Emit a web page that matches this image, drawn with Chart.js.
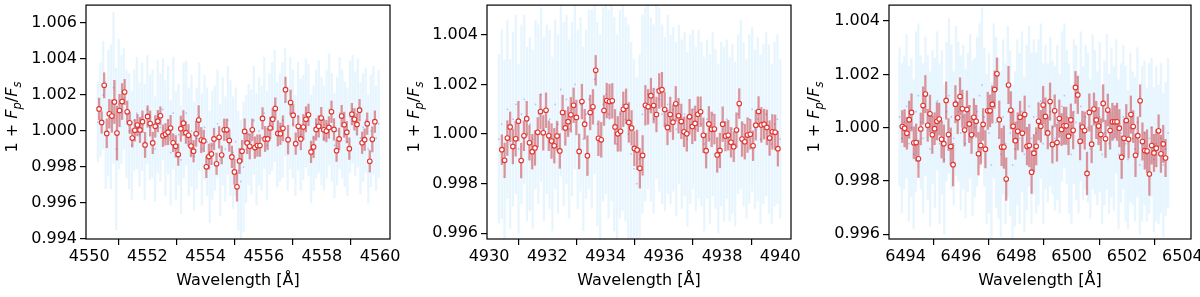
<!DOCTYPE html>
<html>
<head>
<meta charset="utf-8">
<script src="https://cdn.jsdelivr.net/npm/chart.js@4.4.0/dist/chart.umd.min.js"></script>
<style>
  body { margin: 0; background: #fff; }
  #wrap { position: relative; width: 1200px; height: 297px; }
  .panel { position: absolute; top: 0; width: 400px; height: 297px; }
</style>
</head>
<body>
<div id="wrap">
  <div class="panel" style="left:0"><canvas id="c1"></canvas></div>
  <div class="panel" style="left:400px"><canvas id="c2"></canvas></div>
  <div class="panel" style="left:800px"><canvas id="c3"></canvas></div>
</div>
<script>
// binned points (red) - evenly spaced in wavelength between first and last
const ba4554Range = [4550.34, 4559.82];
const ba4554Flux = [
  1.00123, 1.00048, 1.00254, 0.99987, 1.00096, 1.00083, 1.00162, 0.99989, 1.00114, 1.00164,
  1.00217, 1.00107, 1.00046, 0.99961, 1.00004, 1.00033, 1.00006, 1.00052, 0.99923, 1.00081,
  1.00042, 0.99934, 1.00026, 1.00055, 1.00085, 0.99974, 0.99982, 0.99994, 1.00017, 0.99935,
  0.99915, 0.99869, 1.00013, 1.00044, 0.99991, 0.99976, 0.99917, 0.99888, 0.99985, 1.00061,
  0.99950, 0.99945, 0.99801, 0.99858, 0.99873, 0.99956, 0.99818, 0.99965, 0.99867, 1.00007,
  1.00007, 0.99947, 0.99856, 0.99773, 0.99690, 0.99834, 0.99888, 0.99998, 0.99934, 0.99915,
  1.00007, 0.99908, 0.99919, 0.99919, 1.00070, 0.99956, 0.99956, 1.00017, 1.00066, 1.00125,
  0.99987, 0.99985, 1.00015, 1.00230, 0.99952, 1.00158, 1.00088, 0.99930, 1.00026, 0.99956,
  1.00022, 1.00065, 1.00090, 0.99884, 0.99912, 1.00009, 1.00026, 1.00072, 1.00007, 1.00000,
  1.00020, 1.00107, 1.00009, 0.99891, 0.99956, 1.00083, 1.00035, 0.99994, 0.99902, 1.00094,
  1.00065, 1.00037, 1.00116, 0.99935, 0.99952, 1.00041, 0.99832, 0.99954, 1.00052
];
const ba4554Err = [
  0.0006,0.0006,0.0007,0.0008,0.0008,0.0009,0.0012,0.0015,0.0009,0.0010,
  0.0007,0.0006,0.0006,0.0005,0.0006,0.0006,0.0007,0.0006,0.0007,0.0006,
  0.0007,0.0006,0.0006,0.0006,0.0005,0.0006,0.0006,0.0007,0.0007,0.0005,
  0.0006,0.0006,0.0007,0.0007,0.0006,0.0006,0.0006,0.0006,0.0007,0.0008,
  0.0007,0.0006,0.0006,0.0007,0.0006,0.0006,0.0006,0.0006,0.0005,0.0006,
  0.0006,0.0006,0.0006,0.0007,0.0008,0.0007,0.0006,0.0007,0.0006,0.0007,
  0.0006,0.0006,0.0006,0.0006,0.0006,0.0007,0.0006,0.0006,0.0006,0.0006,
  0.0007,0.0006,0.0007,0.0007,0.0008,0.0007,0.0006,0.0006,0.0006,0.0006,
  0.0007,0.0007,0.0006,0.0006,0.0006,0.0006,0.0006,0.0006,0.0006,0.0006,
  0.0006,0.0006,0.0006,0.0006,0.0006,0.0006,0.0007,0.0006,0.0006,0.0006,
  0.0006,0.0006,0.0006,0.0006,0.0006,0.0006,0.0006,0.0007,0.0006
];
// unbinned points (blue) - evenly spaced between first and last
const ba4554BgRange = [4550.30, 4559.95];
const ba4554BgFlux = [
  1.0005, 1.0012, 1.0020, 0.9998, 1.0010, 1.0008, 1.0024, 0.9990, 1.0015,
  1.0012, 1.0018, 1.0004, 1.0000, 0.9992, 1.0006, 1.0010, 0.9998, 1.0008, 0.9994, 1.0012, 1.0002,
  1.0004, 0.9990, 1.0008, 1.0002, 1.0012, 0.9996, 1.0006, 0.9988, 1.0010, 0.9992,
  0.9998, 0.9984, 1.0006, 1.0010, 0.9994, 1.0000, 0.9986, 0.9996, 1.0008, 0.9990,
  1.0002, 0.9994, 0.9980, 0.9992, 0.9996, 1.0004, 0.9984, 1.0000, 0.9990, 1.0006,
  0.9996, 0.9988, 0.9994, 0.9978,
  0.9972, 0.9980, 0.9990, 0.9998,
  0.9994, 1.0006, 0.9990, 1.0000, 0.9996, 1.0010, 0.9992, 1.0004, 1.0008, 1.0014,
  0.9998, 1.0002, 1.0006, 1.0016, 0.9996, 1.0010, 1.0004, 0.9992, 1.0008, 0.9998,
  1.0002, 1.0010, 1.0006, 0.9990, 0.9996, 1.0004, 1.0008, 1.0000, 0.9996, 1.0004,
  1.0012, 1.0002, 0.9992, 1.0000, 1.0010, 1.0004, 0.9998, 0.9994, 1.0008, 1.0012,
  1.0004, 1.0010, 0.9996, 1.0002, 1.0006, 0.9990, 1.0000, 1.0006, 0.9996, 1.0004
];
const ba4554BgErr = [
  0.0022,0.0026,0.0030,0.0030,0.0035,0.0040,0.0042,0.0045,0.0036,
  0.0030,0.0028,0.0030,0.0032,0.0030,0.0028,0.0031,0.0029,0.0030,0.0032,0.0030,0.0029,
  0.0030,0.0029,0.0031,0.0030,0.0028,0.0032,0.0030,0.0029,0.0031,0.0030,
  0.0028,0.0030,0.0032,0.0029,0.0030,0.0031,0.0030,0.0028,0.0030,0.0031,
  0.0029,0.0030,0.0031,0.0030,0.0029,0.0030,0.0031,0.0030,0.0029,0.0030,
  0.0032,0.0031,0.0030,0.0033,
  0.0034,0.0036,0.0030,0.0028,
  0.0029,0.0030,0.0031,0.0030,0.0029,0.0031,0.0030,0.0028,0.0030,0.0031,
  0.0029,0.0030,0.0032,0.0030,0.0029,0.0031,0.0030,0.0028,0.0030,0.0031,
  0.0029,0.0030,0.0031,0.0030,0.0029,0.0030,0.0031,0.0030,0.0029,0.0030,
  0.0031,0.0030,0.0029,0.0030,0.0031,0.0030,0.0029,0.0030,0.0031,0.0030,
  0.0029,0.0030,0.0031,0.0030,0.0029,0.0030,0.0031,0.0030,0.0029,0.0030
];

const ba4934Range = [4930.44, 4939.92];
const ba4934Flux = [
  0.99937, 0.99894, 0.99984, 1.00029, 0.99950, 0.99981, 1.00052, 0.99893, 0.99993, 1.00062,
  0.99965, 0.99929, 0.99944, 1.00007, 1.00091, 1.00005, 1.00096, 0.99993, 0.99972, 0.99953,
  0.99992, 0.99932, 1.00087, 1.00025, 1.00050, 1.00078, 1.00116, 1.00067, 0.99930, 1.00131,
  1.00040, 0.99913, 1.00087, 1.00110, 1.00257, 0.99983, 0.99977, 1.00095, 1.00135, 1.00131,
  1.00134, 1.00029, 1.00001, 1.00011, 1.00100, 1.00112, 1.00047, 1.00025, 0.99942, 0.99936,
  0.99862, 0.99914, 1.00116, 1.00110, 1.00155, 1.00115, 1.00079, 1.00174, 1.00179, 1.00099,
  1.00027, 1.00079, 1.00048, 1.00122, 1.00074, 1.00051, 1.00009, 1.00001, 1.00070, 1.00031,
  1.00043, 1.00080, 1.00090, 0.99995, 0.99933, 1.00041, 1.00019, 1.00020, 0.99916, 0.99934,
  1.00040, 0.99992, 0.99995, 0.99967, 0.99949, 1.00016, 1.00123, 0.99980, 0.99969, 0.99996,
  0.99999, 0.99953, 1.00036, 1.00091, 1.00037, 1.00040, 1.00027, 0.99984, 1.00009, 1.00007,
  0.99941
];
const ba4934Err = [
  0.0006,0.0007,0.0007,0.0006,0.0007,0.0007,0.0008,0.0007,0.0006,0.0007,
  0.0007,0.0007,0.0007,0.0006,0.0007,0.0007,0.0007,0.0006,0.0007,0.0007,
  0.0006,0.0007,0.0007,0.0007,0.0006,0.0007,0.0007,0.0007,0.0007,0.0007,
  0.0006,0.0008,0.0007,0.0007,0.0006,0.0007,0.0007,0.0006,0.0007,0.0007,
  0.0007,0.0007,0.0007,0.0008,0.0007,0.0007,0.0008,0.0007,0.0007,0.0008,
  0.0008,0.0008,0.0008,0.0007,0.0007,0.0007,0.0007,0.0007,0.0007,0.0007,
  0.0007,0.0007,0.0007,0.0007,0.0007,0.0007,0.0006,0.0007,0.0007,0.0007,
  0.0007,0.0007,0.0006,0.0007,0.0007,0.0007,0.0007,0.0006,0.0007,0.0007,
  0.0007,0.0006,0.0006,0.0006,0.0006,0.0007,0.0006,0.0007,0.0007,0.0007,
  0.0006,0.0006,0.0006,0.0006,0.0007,0.0006,0.0007,0.0007,0.0007,0.0007,
  0.0007
];
const ba4934BgRange = [4930.34, 4940.00];
const ba4934BgFlux = [
  0.9998, 1.0004, 0.9990, 1.0010, 0.9996, 1.0006, 1.0012, 0.9994, 1.0008, 1.0014, 1.0000,
  1.0004, 0.9998, 1.0012, 1.0008, 1.0016, 1.0002, 1.0010, 1.0006, 0.9996, 1.0012,
  1.0004, 1.0018, 1.0008, 1.0014, 1.0002, 1.0010, 1.0020, 1.0006, 1.0012, 0.9998,
  1.0008, 1.0014,
  1.0010, 1.0022, 1.0004, 0.9998, 1.0012, 1.0016, 1.0008, 1.0014, 1.0004, 0.9996,
  1.0008, 1.0012, 1.0006, 1.0000, 0.9992, 0.9986, 0.9980, 0.9990, 1.0008, 1.0012,
  1.0016, 1.0010, 1.0006, 1.0018, 1.0014, 1.0008, 1.0004, 1.0012,
  1.0006, 1.0010, 1.0002, 1.0012, 1.0004, 1.0008, 0.9998, 1.0006, 1.0010, 1.0002,
  1.0008, 1.0004, 0.9996, 1.0006, 0.9998, 1.0008, 1.0002, 0.9994, 1.0004, 1.0000,
  1.0006, 0.9998, 1.0002, 0.9996, 1.0008, 1.0012, 1.0004, 0.9998, 1.0006, 1.0010,
  1.0002, 1.0006, 0.9998, 1.0004, 1.0008, 1.0002, 0.9996, 1.0004, 1.0006, 0.9998
];
const ba4934BgErr = [
  0.0034,0.0038,0.0040,0.0036,0.0034,0.0035,0.0036,0.0034,0.0036,0.0034,0.0035,
  0.0035,0.0036,0.0034,0.0036,0.0035,0.0037,0.0034,0.0036,0.0035,0.0034,
  0.0036,0.0035,0.0037,0.0034,0.0036,0.0035,0.0034,0.0036,0.0035,0.0037,
  0.0034,0.0036,
  0.0040,0.0038,0.0041,0.0042,0.0039,0.0040,0.0042,0.0041,0.0043,0.0044,
  0.0042,0.0043,0.0041,0.0044,0.0045,0.0044,0.0043,0.0042,0.0040,0.0039,
  0.0038,0.0037,0.0038,0.0036,0.0037,0.0036,0.0035,0.0036,
  0.0034,0.0033,0.0035,0.0032,0.0034,0.0033,0.0035,0.0034,0.0032,0.0033,
  0.0034,0.0033,0.0035,0.0032,0.0034,0.0033,0.0032,0.0034,0.0033,0.0035,
  0.0032,0.0033,0.0034,0.0033,0.0032,0.0034,0.0033,0.0032,0.0034,0.0033,
  0.0032,0.0033,0.0034,0.0032,0.0033,0.0034,0.0032,0.0033,0.0034,0.0032
];

const ba6497Range = [6493.88, 6503.39];
const ba6497Flux = [
  1.00004, 0.99998, 0.99979, 1.00030, 1.00057, 0.99943, 0.99944, 0.99883, 0.99995, 1.00083,
  1.00126, 1.00009, 1.00052, 0.99973, 0.99996, 1.00024, 1.00032, 0.99956, 0.99940, 1.00102,
  0.99974, 0.99929, 0.99861, 1.00088, 1.00037, 1.00117, 1.00071, 0.99991, 1.00068, 1.00014,
  0.99973, 1.00039, 1.00024, 0.99902, 0.99933, 1.00012, 0.99919, 1.00063, 1.00063, 1.00087,
  1.00143, 1.00202, 1.00030, 0.99927, 0.99927, 0.99807, 1.00160, 1.00065, 1.00005, 0.99951,
  0.99986, 1.00039, 0.99979, 1.00049, 0.99930, 0.99933, 0.99833, 0.99904, 0.99930, 1.00024,
  1.00005, 1.00085, 1.00042, 0.99980, 1.00098, 0.99937, 1.00063, 0.99944, 1.00034, 0.99993,
  1.00007, 1.00007, 0.99968, 1.00029, 0.99990, 1.00151, 1.00123, 0.99949, 1.00002, 0.99989,
  0.99828, 1.00057, 0.99938, 1.00070, 1.00029, 1.00006, 0.99974, 1.00091, 0.99958, 1.00066,
  0.99989, 1.00022, 1.00022, 1.00022, 0.99998, 0.99889, 0.99960, 1.00027, 0.99956, 1.00049,
  1.00004, 0.99896, 0.99970, 1.00101, 0.99948, 0.99914, 0.99912, 0.99826, 0.99933, 0.99905,
  0.99923, 0.99988, 0.99902, 0.99939, 0.99886
];
const ba6497Err = [
  0.0006,0.0007,0.0006,0.0007,0.0007,0.0006,0.0007,0.0007,0.0006,0.0007,
  0.0007,0.0006,0.0007,0.0007,0.0006,0.0007,0.0006,0.0007,0.0007,0.0007,
  0.0006,0.0007,0.0008,0.0007,0.0006,0.0007,0.0007,0.0006,0.0007,0.0007,
  0.0007,0.0007,0.0006,0.0008,0.0007,0.0006,0.0007,0.0007,0.0006,0.0007,
  0.0007,0.0006,0.0007,0.0007,0.0008,0.0008,0.0007,0.0007,0.0006,0.0007,
  0.0007,0.0006,0.0007,0.0007,0.0007,0.0008,0.0008,0.0007,0.0007,0.0007,
  0.0006,0.0007,0.0007,0.0006,0.0007,0.0007,0.0006,0.0007,0.0007,0.0006,
  0.0007,0.0007,0.0007,0.0006,0.0007,0.0006,0.0007,0.0007,0.0006,0.0007,
  0.0008,0.0007,0.0007,0.0006,0.0007,0.0007,0.0006,0.0007,0.0007,0.0006,
  0.0007,0.0007,0.0006,0.0007,0.0007,0.0008,0.0007,0.0006,0.0007,0.0007,
  0.0006,0.0008,0.0007,0.0006,0.0007,0.0007,0.0008,0.0008,0.0007,0.0007,
  0.0007,0.0006,0.0007,0.0007,0.0007
];
const ba6497BgRange = [6493.78, 6503.48];
const ba6497BgFlux = [
  1.0004, 0.9996, 1.0002, 1.0008, 0.9994, 1.0000, 0.9990, 1.0006, 1.0012, 1.0002,
  0.9996, 1.0008, 1.0000, 0.9992, 1.0004, 0.9998, 1.0010, 0.9994, 1.0002, 0.9988,
  1.0006, 1.0012, 1.0004, 0.9996, 1.0010, 1.0006, 0.9998, 1.0004, 0.9994, 1.0002,
  1.0008, 0.9996, 1.0000, 1.0006, 1.0012, 1.0016, 1.0004, 0.9992, 0.9998, 0.9986,
  1.0010, 1.0002, 0.9996, 0.9990, 1.0004, 0.9994, 1.0006, 0.9998, 0.9986, 0.9992,
  1.0002, 0.9996, 1.0006, 0.9990, 1.0000, 1.0008, 0.9996, 1.0004, 0.9998, 1.0002,
  1.0010, 0.9994, 1.0004, 0.9998, 1.0006, 1.0000, 0.9996, 1.0002, 0.9994, 1.0008,
  1.0012, 1.0004, 0.9996, 0.9990, 1.0006, 1.0002, 0.9994, 1.0008, 0.9998, 1.0004,
  1.0000, 0.9992, 1.0006, 1.0002, 0.9996, 1.0004, 0.9990, 0.9998, 1.0006, 0.9994,
  1.0002, 0.9996, 1.0008, 0.9990, 0.9998, 1.0004, 0.9994, 0.9988, 1.0000, 0.9996,
  0.9992, 1.0002, 0.9986, 0.9994, 0.9998, 0.9990, 0.9996, 1.0000, 0.9988, 0.9994,
  0.9990, 0.9996, 0.9986, 0.9992, 0.9998
];
const ba6497BgErr = [
  0.0026,0.0028,0.0025,0.0027,0.0029,0.0026,0.0028,0.0030,0.0027,0.0025,
  0.0028,0.0026,0.0027,0.0029,0.0025,0.0028,0.0026,0.0030,0.0027,0.0028,
  0.0026,0.0029,0.0027,0.0025,0.0028,0.0026,0.0029,0.0027,0.0028,0.0026,
  0.0027,0.0029,0.0026,0.0028,0.0027,0.0029,0.0026,0.0028,
  0.0030,0.0031,0.0029,0.0032,0.0030,0.0031,0.0029,0.0030,0.0032,0.0031,
  0.0030,0.0029,0.0031,0.0032,0.0030,0.0029,0.0031,0.0030,0.0032,0.0029,
  0.0030,0.0031,0.0029,0.0030,
  0.0027,0.0026,0.0028,0.0025,0.0027,0.0029,0.0026,0.0028,0.0027,0.0025,
  0.0028,0.0026,0.0027,0.0029,0.0026,0.0028,0.0025,0.0027,0.0028,0.0026,
  0.0029,0.0027,0.0025,0.0028,0.0026,0.0027,0.0029,0.0026,0.0028,0.0027,
  0.0025,0.0028,0.0026,0.0027,0.0029,0.0026,0.0028,0.0025,0.0027,0.0028,
  0.0026,0.0029,0.0027,0.0025,0.0028,0.0026,0.0027,0.0029,0.0026,0.0028,
  0.0027,0.0025,0.0028
];

const FONT = 'DejaVu Sans';

// black box round the plot area, like matplotlib spines
const framePlugin = {
  id: 'frame',
  afterDraw(chart) {
    const a = chart.chartArea, ctx = chart.ctx;
    ctx.save();
    ctx.strokeStyle = '#000';
    ctx.lineWidth = 1.2;
    ctx.strokeRect(a.left, a.top, a.right - a.left, a.bottom - a.top);
    ctx.restore();
  }
};

// y label with italic F and subscripts: 1 + F_p/F_s
const yLabelPlugin = {
  id: 'ylabel',
  afterDraw(chart, args, opts) {
    const ctx = chart.ctx;
    const size = 16, sub = 11.5;
    const parts = [
      { t: '1 + ', style: '', s: size, dy: 0 },
      { t: 'F', style: 'italic ', s: size, dy: 0 },
      { t: 'p', style: 'italic ', s: sub, dy: 3.5 },
      { t: '/', style: '', s: size, dy: 0 },
      { t: 'F', style: 'italic ', s: size, dy: 0 },
      { t: 's', style: 'italic ', s: sub, dy: 3.5 }
    ];
    ctx.save();
    let total = 0;
    parts.forEach(p => {
      ctx.font = p.style + p.s + 'px "' + FONT + '"';
      p.w = ctx.measureText(p.t).width;
      total += p.w;
    });
    ctx.translate(opts.x, opts.y);
    ctx.rotate(-Math.PI / 2);
    ctx.fillStyle = '#000';
    ctx.textBaseline = 'alphabetic';
    let x = -total / 2;
    parts.forEach(p => {
      ctx.font = p.style + p.s + 'px "' + FONT + '"';
      ctx.fillText(p.t, x, p.dy);
      x += p.w;
    });
    ctx.restore();
  }
};

function grid(range, n) {
  const out = [];
  for (let i = 0; i < n; i++) out.push(range[0] + i * (range[1] - range[0]) / (n - 1));
  return out;
}

function makePanel(id, p) {
  const wl = grid(p.range, p.flux.length);
  const nbg = Math.min(p.bgFlux.length, p.bgErr.length);
  const bgWl = grid(p.bgRange, nbg);
  const tickFont = { family: FONT, size: 16 };
  const axisGrid = { drawOnChartArea: false, drawTicks: true, tickLength: 6, color: '#000', lineWidth: 1.2 };

  new Chart(document.getElementById(id), {
    type: 'scatter',
    data: {
      datasets: [
        {
          type: 'bar', order: 4, grouped: false, barThickness: 1.6,
          backgroundColor: 'rgba(170,218,250,0.28)', borderWidth: 0,
          data: bgWl.map((x, i) => ({ x: x, y: [p.bgFlux[i] - p.bgErr[i], p.bgFlux[i] + p.bgErr[i]] }))
        },
        {
          type: 'scatter', order: 3, pointRadius: 0.9, borderWidth: 0,
          backgroundColor: 'rgba(110,130,255,0.45)',
          data: bgWl.map((x, i) => ({ x: x, y: p.bgFlux[i] }))
        },
        {
          type: 'bar', order: 2, grouped: false, barThickness: 1.6,
          backgroundColor: 'rgba(200,50,55,0.5)', borderWidth: 0,
          data: wl.map((x, i) => ({ x: x, y: [p.flux[i] - p.err[i], p.flux[i] + p.err[i]] }))
        },
        {
          type: 'scatter', order: 1, pointRadius: 2.3, borderWidth: 1.1,
          borderColor: '#e3342f', backgroundColor: '#ffffff',
          data: wl.map((x, i) => ({ x: x, y: p.flux[i] }))
        }
      ]
    },
    options: {
      responsive: true,
      maintainAspectRatio: false,
      animation: false,
      events: [],
      layout: { padding: { left: 0, right: p.right, top: 4, bottom: 0 } },
      plugins: {
        legend: { display: false },
        tooltip: { enabled: false },
        ylabel: { x: p.labelX, y: 117 }
      },
      scales: {
        x: {
          type: 'linear', min: p.xr[0], max: p.xr[1], offset: false,
          afterFit: s => { s.height = 58; s.paddingLeft = 0; s.paddingRight = 0; },
          grid: axisGrid,
          border: { display: false },
          ticks: {
            stepSize: 2, includeBounds: false, autoSkip: false, maxRotation: 0,
            padding: 2, color: '#000', font: tickFont,
            callback: v => String(Math.round(v))
          },
          title: {
            display: true, text: 'Wavelength [Å]', color: '#000',
            font: tickFont, padding: { top: 0, bottom: 7 }
          }
        },
        y: {
          type: 'linear', min: p.yr[0], max: p.yr[1],
          afterFit: s => { s.width = p.left; s.paddingTop = 0; s.paddingBottom = 0; },
          grid: axisGrid,
          border: { display: false },
          ticks: {
            stepSize: 0.002, includeBounds: false, padding: 3,
            color: '#000', font: tickFont,
            callback: v => v.toFixed(3)
          }
        }
      }
    },
    plugins: [framePlugin, yLabelPlugin]
  });
}

makePanel('c1', {
  range: ba4554Range, flux: ba4554Flux, err: ba4554Err,
  bgRange: ba4554BgRange, bgFlux: ba4554BgFlux, bgErr: ba4554BgErr,
  xr: [4549.89, 4560.34], yr: [0.994, 1.007], left: 86, right: 10, labelX: 17
});
makePanel('c2', {
  range: ba4934Range, flux: ba4934Flux, err: ba4934Err,
  bgRange: ba4934BgRange, bgFlux: ba4934BgFlux, bgErr: ba4934BgErr,
  xr: [4929.93, 4940.37], yr: [0.99577, 1.0052], left: 87, right: 9, labelX: 19
});
makePanel('c3', {
  range: ba6497Range, flux: ba6497Flux, err: ba6497Err,
  bgRange: ba6497BgRange, bgFlux: ba6497BgFlux, bgErr: ba6497BgErr,
  xr: [6493.40, 6504.31], yr: [0.99582, 1.0046], left: 89, right: 9, labelX: 19
});
</script>
</body>
</html>
